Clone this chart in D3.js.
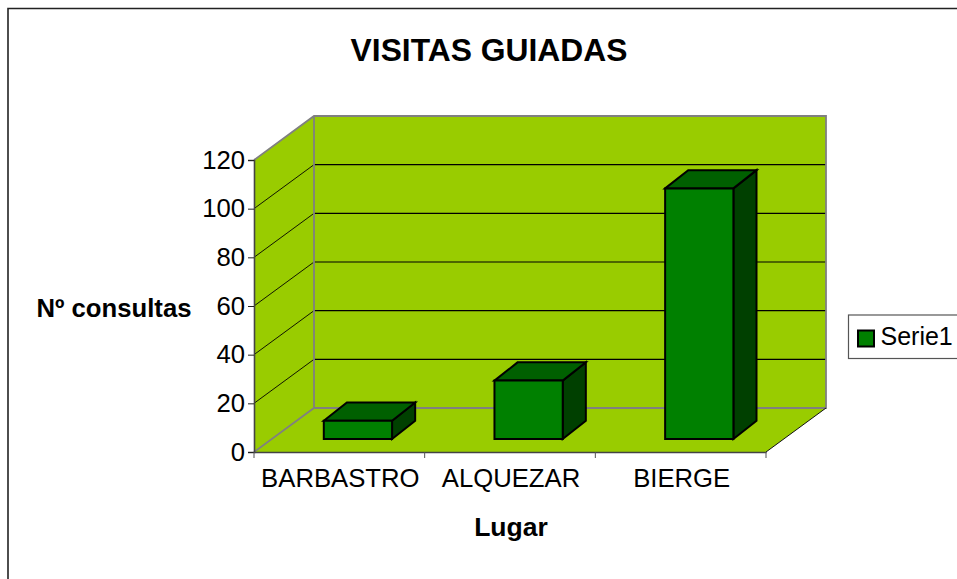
<!DOCTYPE html>
<html><head><meta charset="utf-8">
<script src="https://cdn.jsdelivr.net/npm/d3@7"></script>
<style>html,body{margin:0;padding:0;background:#fff}svg{display:block}text{font-family:"Liberation Sans",Arial,sans-serif;fill:#000}</style>
</head><body><div id="c"></div>
<script>
const categories = ["BARBASTRO", "ALQUEZAR", "BIERGE"];
const seriesName = "Serie1";
const seriesValues = [7.5, 24, 103];
const yTicks = [0, 20, 40, 60, 80, 100, 120];
const titleText = "VISITAS GUIADAS";
const yTitle = "Nº consultas";
const xTitle = "Lugar";

const W = 957, H = 579;
const svg = d3.select("#c").append("svg").attr("width", W).attr("height", H);

// frame
svg.append("path").attr("d", `M8,${H}V8.5H${W}`).attr("fill", "none").attr("stroke", "#222").attr("stroke-width", 1.6);

const x0 = 254, x1 = 766, yB = 452, yT = 160, DX = 60, DY = -44;
const x = d3.scaleBand().domain(categories).range([x0, x1]);
const y = d3.scaleLinear().domain([0, 120]).range([yB, yT]);
const wall = "#99cc00", gray = "#808080";

const poly = (pts, fill, stroke, sw) => svg.append("polygon").attr("points", pts.map(p => p.join(",")).join(" "))
  .attr("fill", fill).attr("stroke", stroke || "none").attr("stroke-width", sw || 0).attr("stroke-linejoin", "miter");
const line = (a, b, stroke, sw) => svg.append("line").attr("x1", a[0]).attr("y1", a[1]).attr("x2", b[0]).attr("y2", b[1]).attr("stroke", stroke).attr("stroke-width", sw);

// walls and floor
poly([[x0 + DX, y(120) + DY], [x1 + DX, y(120) + DY], [x1 + DX, yB + DY], [x0 + DX, yB + DY]], wall);
poly([[x0, yT], [x0 + DX, yT + DY], [x0 + DX, yB + DY], [x0, yB]], wall);
poly([[x0, yB], [x0 + DX, yB + DY], [x1 + DX, yB + DY], [x1, yB]], wall);

// gridlines
yTicks.filter(t => t > 0 && t < 120).forEach(t => {
  line([x0, y(t)], [x0 + DX, y(t) + DY], "#000", 0.9);
  line([x0 + DX, y(t) + DY], [x1 + DX, y(t) + DY], "#000", 1.1);
});

// wall edges
svg.append("path").attr("fill", "none").attr("stroke", gray).attr("stroke-width", 1.8)
  .attr("d", `M${x0},${yT}L${x0 + DX},${yT + DY}H${x1 + DX}V${yB + DY}H${x0 + DX}L${x0},${yB}M${x0 + DX},${yT + DY}V${yB + DY}`);
line([x1, yB], [x1 + DX, yB + DY], "#111", 1);

// axes
const gy = svg.append("g").attr("transform", `translate(${x0},0)`)
  .call(d3.axisLeft(y).tickValues(yTicks).tickSize(6).tickPadding(3));
gy.selectAll("path").attr("stroke", "#444").attr("stroke-width", 1.6);
gy.selectAll("line").attr("stroke", "#222").attr("stroke-width", 1);
gy.selectAll("text").attr("font-size", 25.7).attr("font-family", '"Liberation Sans"').attr("fill", "#000");

const gx = svg.append("g").attr("transform", `translate(0,${yB})`)
  .call(d3.axisBottom(x).tickSize(0).tickPadding(17));
gx.select("path").attr("stroke", "#444").attr("stroke-width", 1.4);
gx.selectAll("text").attr("font-size", 25.7).attr("font-family", '"Liberation Sans"').attr("fill", "#000").attr("dx", 1);
[...categories.map(c => x(c)), x1].forEach(v => line([v, yB], [v, yB + 6], "#555", 1));

// bars
const depthStart = 0.31, depthX = 0.385, depthY = 0.415, barFrac = 0.4;
const barW = x.bandwidth() * barFrac;
const dx = DX * depthX, dy = DY * depthY;
const sx = DX * depthStart, sy = DY * 0.295;
categories.forEach((c, i) => {
  const L = x(c) + (x.bandwidth() - barW) / 2 + sx, R = L + barW;
  const B = yB + sy, Tp = y(seriesValues[i]) + sy;
  poly([[R, Tp], [R + dx, Tp + dy], [R + dx, B + dy], [R, B]], "#004000", "#000", 2);
  poly([[L, Tp], [L + dx, Tp + dy], [R + dx, Tp + dy], [R, Tp]], "#006000", "#000", 2);
  poly([[L, Tp], [R, Tp], [R, B], [L, B]], "#008000", "#000", 2);
});

// titles
svg.append("text").attr("x", 489).attr("y", 61).attr("text-anchor", "middle").attr("font-size", 31.8).attr("font-weight", "bold").text(titleText);
svg.append("text").attr("x", 114).attr("y", 316.5).attr("text-anchor", "middle").attr("font-size", 25.7).attr("font-weight", "bold").text(yTitle);
svg.append("text").attr("x", 511).attr("y", 536).attr("text-anchor", "middle").attr("font-size", 26.5).attr("font-weight", "bold").text(xTitle);

// legend
svg.append("rect").attr("x", 848.5).attr("y", 315).attr("width", 120).attr("height", 43.5).attr("fill", "#fff").attr("stroke", "#555").attr("stroke-width", 1.2);
svg.append("rect").attr("x", 858).attr("y", 330.5).attr("width", 16).attr("height", 16).attr("fill", "#008000").attr("stroke", "#000").attr("stroke-width", 2);
svg.append("text").attr("x", 880.5).attr("y", 344.5).attr("font-size", 25).text(seriesName);
</script></body></html>
